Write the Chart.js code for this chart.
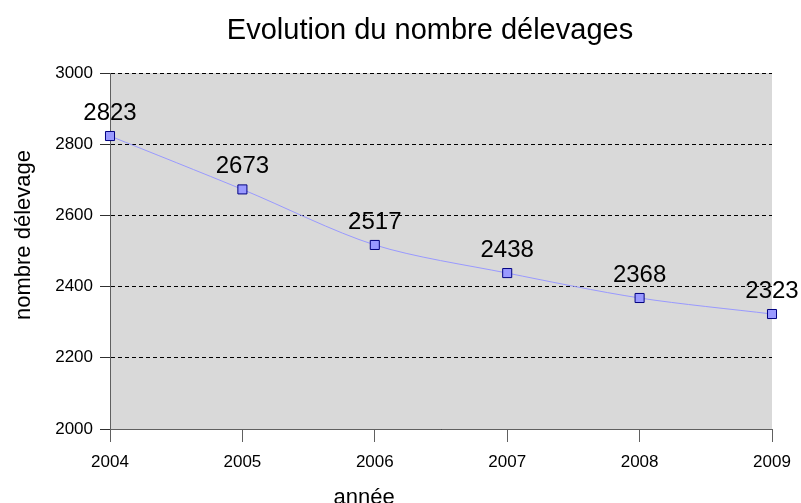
<!DOCTYPE html>
<html>
<head>
<meta charset="utf-8">
<script src="https://cdn.jsdelivr.net/npm/chart.js@4/dist/chart.umd.min.js"></script>
<style>
  html, body { margin: 0; padding: 0; background: #ffffff; }
  #wrap { width: 801px; height: 503px; }
</style>
</head>
<body>
<div id="wrap"><canvas id="chart" width="801" height="503"></canvas></div>
<script>
const years = ['2004', '2005', '2006', '2007', '2008', '2009'];
const elevages = [2823, 2673, 2517, 2438, 2368, 2323];
const yMin = 2000;
const yMax = 3000;
const yStep = 200;
const chartTitle = 'Evolution du nombre délevages';
const xTitle = 'année';
const yTitle = 'nombre délevage';

const FONT = '"Liberation Sans", Arial, sans-serif';

// fond gris de la zone de tracé
const plotBackground = {
    id: 'plotBackground',
    beforeDraw(chart) {
        const { ctx, chartArea } = chart;
        ctx.save();
        ctx.fillStyle = '#d9d9d9';
        ctx.fillRect(chartArea.left, chartArea.top, chartArea.right - chartArea.left, chartArea.bottom - chartArea.top);
        ctx.restore();
    }
};

// valeurs au-dessus des points, titres (placés comme dans l'original)
const textLabels = {
    id: 'textLabels',
    afterDatasetsDraw(chart) {
        const ctx = chart.ctx;
        const meta = chart.getDatasetMeta(0);
        const area = chart.chartArea;
        ctx.save();
        ctx.fillStyle = '#000000';
        ctx.textAlign = 'center';
        ctx.textBaseline = 'middle';

        ctx.font = '24px ' + FONT;
        meta.data.forEach((pt, i) => {
            ctx.fillText(String(elevages[i]), pt.x, pt.y - 23);
        });

        ctx.font = '29px ' + FONT;
        ctx.fillText(chartTitle, 430, 31);

        ctx.font = '22px ' + FONT;
        ctx.fillText(xTitle, chart.scales.x.getPixelForValue(1.92), 498);

        ctx.translate(24, (area.top + area.bottom) / 2 - 16);
        ctx.rotate(-Math.PI / 2);
        ctx.fillText(yTitle, 0, 0);
        ctx.restore();
    }
};

const ctx = document.getElementById('chart').getContext('2d');
new Chart(ctx, {
    type: 'line',
    data: {
        labels: years,
        datasets: [{
            data: elevages,
            borderColor: '#9999ff',
            borderWidth: 1,
            tension: 0.3,
            pointStyle: 'rect',
            pointRadius: 6.4,
            pointBackgroundColor: '#9999ff',
            pointBorderColor: '#000080',
            pointBorderWidth: 1,
            fill: false
        }]
    },
    options: {
        responsive: false,
        animation: false,
        layout: {
            padding: { top: 73, right: 29, bottom: 0, left: 0 }
        },
        plugins: {
            legend: { display: false },
            tooltip: { enabled: false },
            title: { display: false }
        },
        scales: {
            x: {
                type: 'category',
                offset: false,
                border: { display: true, color: '#606060', width: 1 },
                grid: {
                    drawOnChartArea: false,
                    drawTicks: true,
                    tickLength: 13,
                    tickColor: '#606060'
                },
                ticks: {
                    color: '#000000',
                    padding: 10,
                    maxRotation: 0,
                    font: { family: FONT, size: 17 }
                },
                afterFit(scale) { scale.height = 74; }
            },
            y: {
                min: yMin,
                max: yMax,
                border: { display: true, color: '#606060', width: 1, dash: [4, 3] },
                grid: {
                    color: '#000000',
                    lineWidth: 1,
                    drawTicks: true,
                    tickLength: 10,
                    tickColor: '#303030',
                    tickBorderDash: []
                },
                ticks: {
                    stepSize: yStep,
                    color: '#000000',
                    padding: 7,
                    font: { family: FONT, size: 17 },
                    callback: (v) => String(v)
                },
                afterFit(scale) { scale.width = 110; }
            }
        }
    },
    plugins: [plotBackground, textLabels]
});
</script>
</body>
</html>
